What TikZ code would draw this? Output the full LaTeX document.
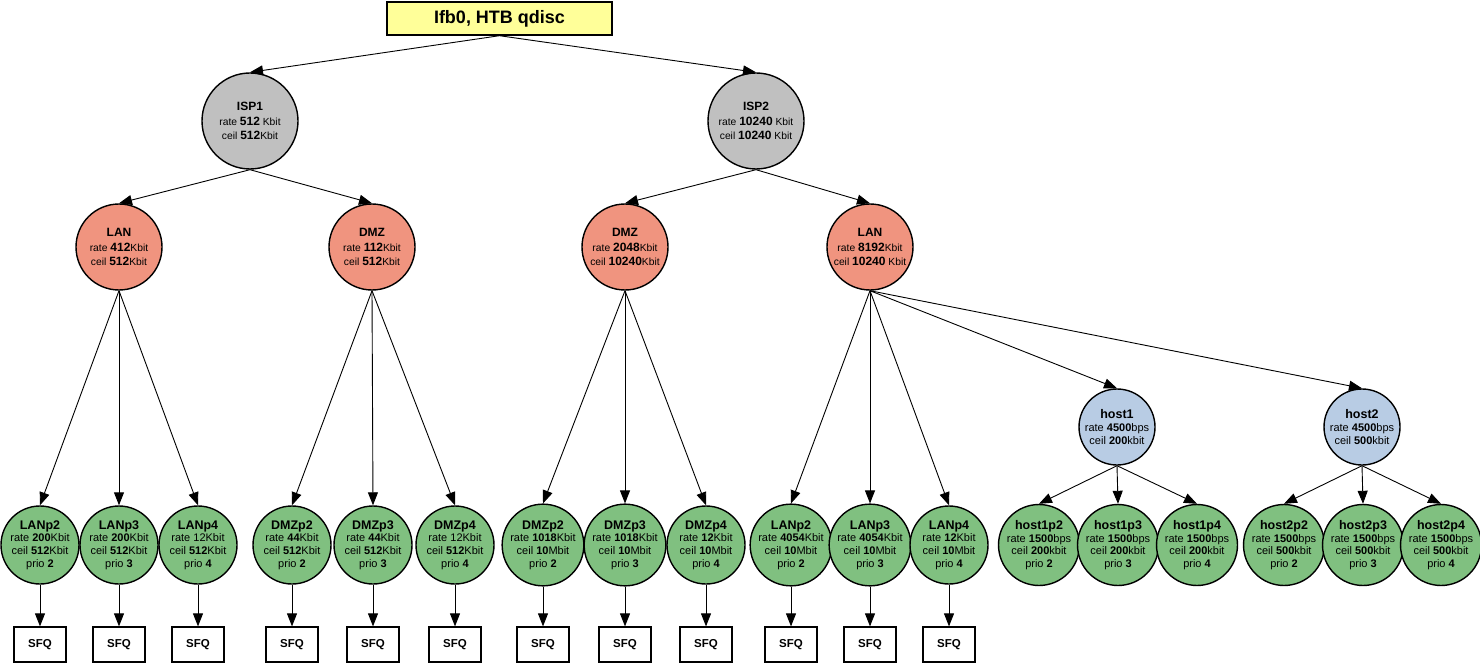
\documentclass[tikz,border=0pt]{standalone}
\usepackage{fontspec}
\setmainfont{Liberation Sans}
\usepackage{tikz}
\usetikzlibrary{arrows.meta}
\usepackage{xcolor}
\definecolor{qdiscfill}{HTML}{FFFF99}
\definecolor{ispfill}{HTML}{C0C0C0}
\definecolor{netfill}{HTML}{F0947F}
\definecolor{hostfill}{HTML}{B8CCE4}
\definecolor{leaffill}{HTML}{80C080}
\newcommand{\leafy}{545}
\newcommand{\sfqy}{644.5}
\newcommand{\cname}[1]{{\bfseries\fontsize{12}{14.5}\selectfont #1}}
\newcommand{\cnum}[1]{{\bfseries\fontsize{12}{14.5}\selectfont #1}}
\newcommand{\lname}[1]{{\bfseries\fontsize{12.5}{12.7}\selectfont #1}}
\newcommand{\lnum}[1]{\textbf{#1}}
\tikzset{
  edge/.style={-{Triangle[length=13pt,width=10pt]}, line width=0.9pt},
  qdisc/.style={draw, line width=1.4pt, fill=qdiscfill, minimum width=225pt, minimum height=33pt,
    inner sep=0pt, font=\bfseries\fontsize{18}{18}\selectfont},
  classnode/.style={draw, circle, line width=1.4pt, inner sep=0pt, align=center,
    font=\fontsize{10.3}{14.5}\selectfont},
  isp/.style={classnode, fill=ispfill, minimum size=96pt},
  net/.style={classnode, fill=netfill, minimum size=86pt},
  host/.style={draw, circle, line width=1.4pt, inner sep=0pt, align=center, fill=hostfill,
    minimum size=76pt, font=\fontsize{11}{12.7}\selectfont},
  leaf/.style={draw, circle, line width=1.4pt, inner sep=0pt, align=center, fill=leaffill,
    minimum size=78pt, font=\fontsize{11}{12.7}\selectfont},
  sfq/.style={draw, line width=1.2pt, fill=white, minimum width=52pt, minimum height=35pt,
    inner sep=0pt, font=\bfseries\fontsize{11.5}{11.5}\selectfont}
}
% #1 id, #2 parent, #3 x, #4 name, #5 rate, #6 ceil, #7 prio
\newcommand{\leafnode}[7]{%
  \node[leaf] (#1) at (#3,\leafy) {\lname{#4}\\rate #5\\ceil #6\\prio \lnum{#7}};
  \draw[edge] (#2.south) -- (#1.north);
}
\newcommand{\sfqnode}[1]{%
  \node[sfq] (#1sfq) at (#1|-0,\sfqy) {SFQ};
  \draw[edge] (#1.south) -- (#1sfq.north);
}

\begin{document}
\begin{tikzpicture}[x=1pt,y=-1pt]
  \useasboundingbox (0,0) rectangle (1480,663);

  \node[qdisc] (root) at (499.5,18.5) {Ifb0, HTB qdisc};

  \node[isp] (isp1) at (250,121) {\cname{ISP1}\\rate \cnum{512} Kbit\\ceil \cnum{512}Kbit};
  \node[isp] (isp2) at (756,121) {\cname{ISP2}\\rate \cnum{10240} Kbit\\ceil \cnum{10240} Kbit};
  \draw[edge] (root.south) -- (isp1.north);
  \draw[edge] (root.south) -- (isp2.north);

  \node[net] (lanA) at (119,247) {\cname{LAN}\\rate \cnum{412}Kbit\\ceil \cnum{512}Kbit};
  \node[net] (dmzA) at (372,247) {\cname{DMZ}\\rate \cnum{112}Kbit\\ceil \cnum{512}Kbit};
  \node[net] (dmzB) at (625,247) {\cname{DMZ}\\rate \cnum{2048}Kbit\\ceil \cnum{10240}Kbit};
  \node[net] (lanB) at (870,247) {\cname{LAN}\\rate \cnum{8192}Kbit\\ceil \cnum{10240} Kbit};
  \draw[edge] (isp1.south) -- (lanA.north);
  \draw[edge] (isp1.south) -- (dmzA.north);
  \draw[edge] (isp2.south) -- (dmzB.north);
  \draw[edge] (isp2.south) -- (lanB.north);

  \node[host] (host1) at (1117,427) {\lname{host1}\\rate \lnum{4500}bps\\ceil \lnum{200}kbit};
  \node[host] (host2) at (1362,427) {\lname{host2}\\rate \lnum{4500}bps\\ceil \lnum{500}kbit};
  \draw[edge] (lanB.south) -- (host1.north);
  \draw[edge] (lanB.south) -- (host2.north);

  % ISP1 leaves
  \leafnode{lanAp2}{lanA}{40}{LANp2}{\lnum{200}Kbit}{\lnum{512}Kbit}{2}
  \leafnode{lanAp3}{lanA}{119}{LANp3}{\lnum{200}Kbit}{\lnum{512}Kbit}{3}
  \leafnode{lanAp4}{lanA}{198}{LANp4}{12Kbit}{\lnum{512}Kbit}{4}
  \leafnode{dmzAp2}{dmzA}{292}{DMZp2}{\lnum{44}Kbit}{\lnum{512}Kbit}{2}
  \leafnode{dmzAp3}{dmzA}{373}{DMZp3}{\lnum{44}Kbit}{\lnum{512}Kbit}{3}
  \leafnode{dmzAp4}{dmzA}{455}{DMZp4}{12Kbit}{\lnum{512}Kbit}{4}

  % ISP2 leaves
  \leafnode{dmzBp2}{dmzB}{543}{DMZp2}{\lnum{1018}Kbit}{\lnum{10}Mbit}{2}
  \leafnode{dmzBp3}{dmzB}{625}{DMZp3}{\lnum{1018}Kbit}{\lnum{10}Mbit}{3}
  \leafnode{dmzBp4}{dmzB}{706}{DMZp4}{\lnum{12}Kbit}{\lnum{10}Mbit}{4}
  \leafnode{lanBp2}{lanB}{791}{LANp2}{\lnum{4054}Kbit}{\lnum{10}Mbit}{2}
  \leafnode{lanBp3}{lanB}{870}{LANp3}{\lnum{4054}Kbit}{\lnum{10}Mbit}{3}
  \leafnode{lanBp4}{lanB}{949}{LANp4}{\lnum{12}Kbit}{\lnum{10}Mbit}{4}

  \leafnode{host1p2}{host1}{1039}{host1p2}{\lnum{1500}bps}{\lnum{200}kbit}{2}
  \leafnode{host1p3}{host1}{1118}{host1p3}{\lnum{1500}bps}{\lnum{200}kbit}{3}
  \leafnode{host1p4}{host1}{1197}{host1p4}{\lnum{1500}bps}{\lnum{200}kbit}{4}
  \leafnode{host2p2}{host2}{1284}{host2p2}{\lnum{1500}bps}{\lnum{500}kbit}{2}
  \leafnode{host2p3}{host2}{1363}{host2p3}{\lnum{1500}bps}{\lnum{500}kbit}{3}
  \leafnode{host2p4}{host2}{1441}{host2p4}{\lnum{1500}bps}{\lnum{500}kbit}{4}

  \foreach \leaf in {lanAp2,lanAp3,lanAp4,dmzAp2,dmzAp3,dmzAp4,
                     dmzBp2,dmzBp3,dmzBp4,lanBp2,lanBp3,lanBp4}
    {\sfqnode{\leaf}}
\end{tikzpicture}
\end{document}
